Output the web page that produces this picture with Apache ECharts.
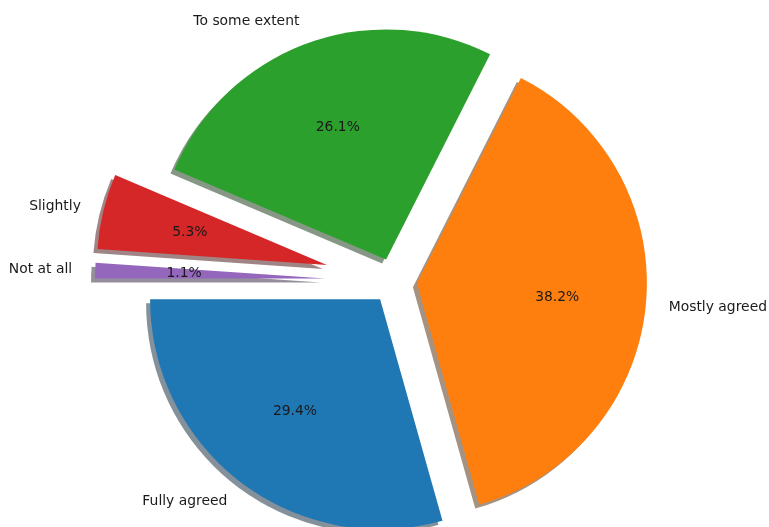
<!DOCTYPE html>
<html>
<head>
<meta charset="utf-8">
<script src="https://cdn.jsdelivr.net/npm/echarts@6/dist/echarts.min.js"></script>
<style>html,body{margin:0;padding:0;background:#fff}#c{width:769px;height:527px}</style>
</head>
<body>
<div id="c"></div>
<script>
var categories = ['Fully agreed', 'Mostly agreed', 'To some extent', 'Slightly', 'Not at all'];
var values = [29.4, 38.2, 26.1, 5.3, 1.1];
var explode = [0.1, 0.1, 0.1, 0.3, 0.3];
var colors = ['#1f77b4', '#ff7f0e', '#2ca02c', '#d62728', '#9467bd'];

var R = 230;
var CENTER = [394, 281];
var FONT = { fontFamily: 'DejaVu Sans', fontSize: 13.9, color: '#1a1a1a' };

function shadowOf(hex) {
  var r = parseInt(hex.slice(1, 3), 16), g = parseInt(hex.slice(3, 5), 16), b = parseInt(hex.slice(5, 7), 16);
  return 'rgba(' + Math.round(r * 0.3) + ',' + Math.round(g * 0.3) + ',' + Math.round(b * 0.3) + ',0.5)';
}

var series = [];
categories.forEach(function (name, i) {
  var base = {
    type: 'pie', center: CENTER, startAngle: 180, clockwise: false,
    selectedMode: 'multiple', selectedOffset: explode[i] * R,
    avoidLabelOverlap: false, silent: true, animation: false,
    emphasis: { disabled: true }
  };
  // visible wedge with outside label
  series.push(Object.assign({}, base, {
    radius: R,
    label: Object.assign({ position: 'outside', distanceToLabelLine: 0 }, FONT),
    labelLine: { show: false, length: 0.1 * R, length2: 0 },
    data: values.map(function (v, j) {
      return {
        value: v, name: categories[j], selected: j === i,
        itemStyle: j === i ? {
          color: colors[j], shadowColor: shadowOf(colors[j]), shadowBlur: 0.5,
          shadowOffsetX: -4, shadowOffsetY: 4
        } : { color: 'rgba(0,0,0,0)' },
        label: { show: j === i }
      };
    })
  }));
  // transparent ring carrying the percent label at 0.6 R
  series.push(Object.assign({}, base, {
    radius: [0.5 * R, 0.7 * R],
    label: Object.assign({ position: 'inside', formatter: function (p) { return p.value.toFixed(1) + '%'; } }, FONT),
    labelLine: { show: false },
    data: values.map(function (v, j) {
      return {
        value: v, name: categories[j], selected: j === i,
        itemStyle: { color: 'rgba(0,0,0,0)' },
        label: { show: j === i }
      };
    })
  }));
});

var chart = echarts.init(document.getElementById('c'), null, { renderer: 'canvas' });
chart.setOption({ backgroundColor: '#fff', animation: false, series: series });
</script>
</body>
</html>
